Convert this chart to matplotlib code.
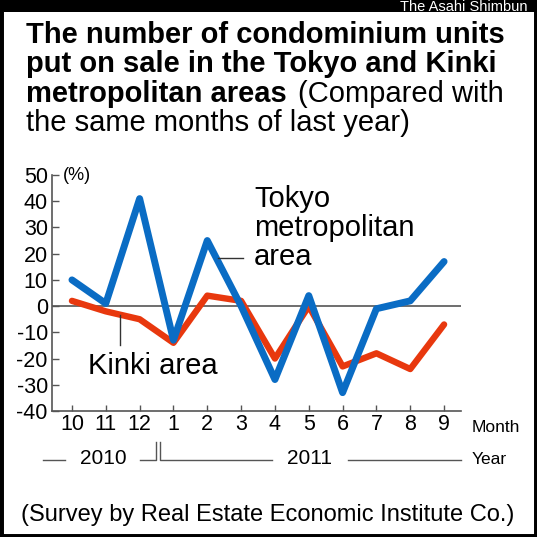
import matplotlib
matplotlib.use("Agg")
import matplotlib.pyplot as plt
from matplotlib import font_manager
from matplotlib.patches import Rectangle
from matplotlib.lines import Line2D

# ---- data ----
months = ["10", "11", "12", "1", "2", "3", "4", "5", "6", "7", "8", "9"]
tokyo = [10, 1, 41, -13, 25, 0, -28, 4, -33, -1, 2, 17]
kinki = [2, -2, -5, -14, 4, 2, -20, 0, -23, -18, -24, -7]
yticks = [-40, -30, -20, -10, 0, 10, 20, 30, 40, 50]

names = {f.name for f in font_manager.fontManager.ttflist}
REG = "Liberation Sans" if "Liberation Sans" in names else "DejaVu Sans"

W = H = 537
fig = plt.figure(figsize=(W / 100, H / 100), dpi=100)
fig.patch.set_facecolor("white")

def fx(x):
    return x / W

def fy(y):
    return 1 - y / H

# ---- frame ----
fig.add_artist(Rectangle((0, 0), 1, 1, transform=fig.transFigure, fill=False,
                         edgecolor="black", linewidth=5, zorder=10))
fig.add_artist(Rectangle((0, fy(12)), 1, 12 / H, transform=fig.transFigure,
                         facecolor="black", edgecolor="none", zorder=10))
fig.text(fx(528), fy(10.8), "The Asahi Shimbun", color="white", ha="right", va="baseline",
         fontsize=10.5, family=REG, zorder=11)

# ---- title ----
fig.text(fx(25.7), fy(43), "The number of condominium units", fontsize=21,
         fontweight="bold", family=REG, va="baseline", ha="left")
fig.text(fx(25.7), fy(72.5), "put on sale in the Tokyo and Kinki", fontsize=21,
         fontweight="bold", family=REG, va="baseline", ha="left")
fig.text(fx(25.7), fy(102), "metropolitan areas", fontsize=21,
         fontweight="bold", family=REG, va="baseline", ha="left")
fig.text(fx(298), fy(102), "(Compared with", fontsize=21,
         family=REG, va="baseline", ha="left")
fig.text(fx(25.7), fy(131), "the same months of last year)", fontsize=21,
         family=REG, va="baseline", ha="left")

# ---- axes ----
ax = fig.add_axes([fx(52), fy(411), (461 - 52) / W, (411 - 175) / H])
x = list(range(len(months)))
ax.axhline(0, color="#555555", lw=1.2, zorder=1)
ax.plot(x, kinki, color="#e8380e", lw=4.6, solid_joinstyle="round",
        solid_capstyle="round", zorder=3)
ax.plot(x, tokyo, color="#0a6cc4", lw=5.0, solid_joinstyle="round",
        solid_capstyle="round", zorder=4)
ax.set_xlim(-0.59, 11.5)
ax.set_ylim(-40, 50)
ax.set_yticks(yticks)
ax.set_yticklabels([str(v) for v in yticks])
ax.set_xticks(x)
ax.set_xticklabels(months)
for s in ("top", "right"):
    ax.spines[s].set_visible(False)
for s in ("left", "bottom"):
    ax.spines[s].set_color("#555555")
    ax.spines[s].set_linewidth(1.2)
ax.tick_params(axis="y", direction="in", length=5, width=1.0, color="#555555",
               pad=3, labelsize=15.5)
ax.tick_params(axis="x", direction="in", length=4, width=1.0, color="#555555",
               pad=2, labelsize=15.5)
for lab in ax.get_xticklabels() + ax.get_yticklabels():
    lab.set_family(REG)
ax.patch.set_alpha(0)

fig.text(fx(63), fy(176), "(%)", fontsize=13, family=REG, va="center", ha="left")

# ---- annotations ----
fig.text(fx(254), fy(207), "Tokyo", fontsize=21, family=REG, va="baseline", ha="left")
fig.text(fx(254), fy(236), "metropolitan", fontsize=21, family=REG, va="baseline", ha="left")
fig.text(fx(254), fy(265), "area", fontsize=21, family=REG, va="baseline", ha="left")
fig.add_artist(Line2D([fx(218), fx(243)], [fy(258), fy(258)], color="#333333", lw=1.0,
                      transform=fig.transFigure))
fig.text(fx(88), fy(374), "Kinki area", fontsize=21, family=REG, va="baseline", ha="left")
fig.add_artist(Line2D([fx(120), fx(120)], [fy(315), fy(345)], color="#333333", lw=1.0,
                      transform=fig.transFigure))

# ---- month / year row ----
fig.text(fx(472), fy(427), "Month", fontsize=12.5, family=REG, va="center", ha="left")
fig.text(fx(472), fy(460), "Year", fontsize=12.5, family=REG, va="center", ha="left")
fig.text(fx(103), fy(459), "2010", fontsize=15, family=REG, va="center", ha="center")
fig.text(fx(310), fy(459), "2011", fontsize=15, family=REG, va="center", ha="center")
ycol = "#555555"
segs = [
    ([43, 65], [460, 460]),
    ([140, 156, 156], [460, 460, 442]),
    ([160, 160, 272], [442, 460, 460]),
    ([348, 461], [460, 460]),
]
for xs, ys in segs:
    fig.add_artist(Line2D([fx(v) for v in xs], [fy(v) for v in ys], color=ycol, lw=1.0,
                          transform=fig.transFigure))

# ---- source ----
fig.text(fx(268), fy(515), "(Survey by Real Estate Economic Institute Co.)", fontsize=17,
         family=REG, va="center", ha="center")

fig.savefig("out.png", dpi=100, facecolor="white")
